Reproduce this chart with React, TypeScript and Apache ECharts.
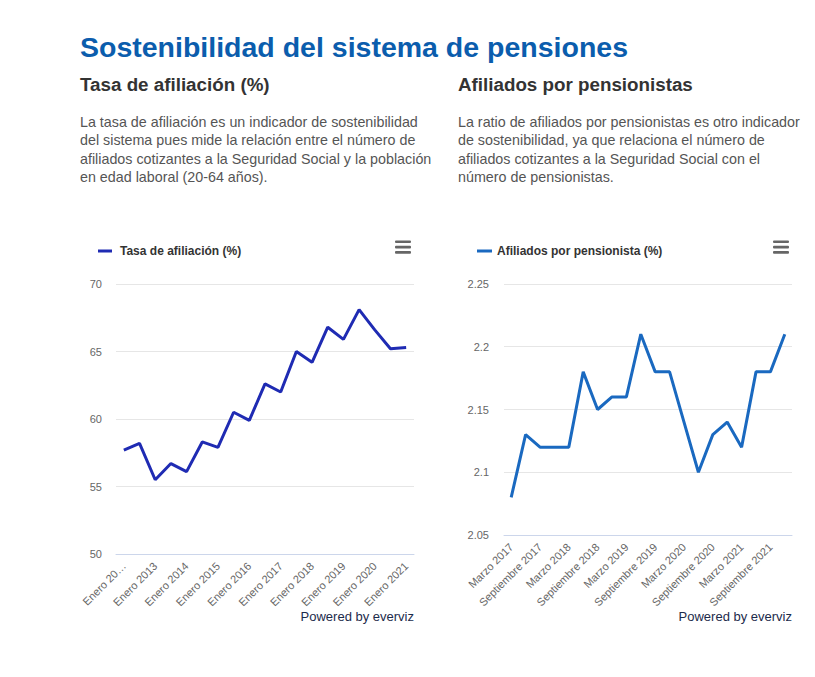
import React, { useEffect, useRef } from "react";
import * as echarts from "echarts";

const mainTitle = "Sostenibilidad del sistema de pensiones";
const leftHeading = "Tasa de afiliación (%)";
const rightHeading = "Afiliados por pensionistas";
const leftParagraph = [
  "La tasa de afiliación es un indicador de sostenibilidad",
  "del sistema pues mide la relación entre el número de",
  "afiliados cotizantes a la Seguridad Social y la población",
  "en edad laboral (20-64 años).",
];
const rightParagraph = [
  "La ratio de afiliados por pensionistas es otro indicador",
  "de sostenibilidad, ya que relaciona el número de",
  "afiliados cotizantes a la Seguridad Social con el",
  "número de pensionistas.",
];

const leftSeriesName = "Tasa de afiliación (%)";
const leftCategories = [
  "Enero 2012", "Julio 2012", "Enero 2013", "Julio 2013", "Enero 2014",
  "Julio 2014", "Enero 2015", "Julio 2015", "Enero 2016", "Julio 2016",
  "Enero 2017", "Julio 2017", "Enero 2018", "Julio 2018", "Enero 2019",
  "Julio 2019", "Enero 2020", "Julio 2020", "Enero 2021",
];
const leftValues = [
  57.7, 58.2, 55.5, 56.7, 56.1, 58.3, 57.9, 60.5, 59.9, 62.6,
  62.0, 65.0, 64.2, 66.8, 65.9, 68.1, 66.6, 65.2, 65.3,
];
const leftYTicks = { min: 50, max: 70, interval: 5 };

const rightSeriesName = "Afiliados por pensionista (%)";
const rightCategories = [
  "Marzo 2017", "Junio 2017", "Septiembre 2017", "Diciembre 2017",
  "Marzo 2018", "Junio 2018", "Septiembre 2018", "Diciembre 2018",
  "Marzo 2019", "Junio 2019", "Septiembre 2019", "Diciembre 2019",
  "Marzo 2020", "Junio 2020", "Septiembre 2020", "Diciembre 2020",
  "Marzo 2021", "Junio 2021", "Septiembre 2021", "Diciembre 2021",
];
const rightValues = [
  2.08, 2.13, 2.12, 2.12, 2.12, 2.18, 2.15, 2.16, 2.16, 2.21,
  2.18, 2.18, 2.14, 2.10, 2.13, 2.14, 2.12, 2.18, 2.18, 2.21,
];
const rightYTicks = { min: 2.05, max: 2.25, interval: 0.05 };

const credit = "Powered by everviz";

const FONT = "'Liberation Sans', Arial, Helvetica, sans-serif";

function menuIcon(x: number, y: number) {
  return [0, 5.3, 10.6].map((dy) => ({
    type: "rect",
    shape: { x, y: y + dy, width: 16, height: 2.6, r: 1 },
    style: { fill: "#666666" },
  }));
}

export default function App() {
  const ref = useRef<HTMLDivElement>(null);

  useEffect(() => {
    if (!ref.current) return;
    const chart = echarts.init(ref.current, undefined, { renderer: "svg" });

    const paragraphLines = (lines: string[], x: number) =>
      lines.map((t, i) => ({
        type: "text",
        x,
        y: 121.5 + i * 18.6,
        style: {
          text: t,
          fontFamily: FONT,
          fontSize: 14.3,
          fill: "#555555",
          textVerticalAlign: "middle",
        },
      }));

    const axisLabelStyle = {
      color: "#666666",
      fontSize: 11,
      fontFamily: FONT,
    };

    const heading = (text: string, x: number) => ({
      type: "text",
      x,
      y: 84,
      style: {
        text,
        fontFamily: FONT,
        fontSize: 18.8,
        fontWeight: "bold",
        fill: "#333333",
        textVerticalAlign: "middle",
      },
    });

    const creditText = (x: number) => ({
      type: "text",
      x,
      y: 616,
      style: {
        text: credit,
        fontFamily: FONT,
        fontSize: 13,
        fill: "#1c2b4b",
        textAlign: "right",
        textVerticalAlign: "middle",
      },
    });

    chart.setOption({
      animation: false,
      backgroundColor: "#ffffff",
      textStyle: { fontFamily: FONT },
      graphic: [
        {
          type: "text",
          x: 80,
          y: 47,
          style: {
            text: mainTitle,
            fontFamily: FONT,
            fontSize: 28.5,
            fontWeight: "bold",
            fill: "#0b5dad",
            textVerticalAlign: "middle",
          },
        },
        heading(leftHeading, 80),
        heading(rightHeading, 458),
        ...paragraphLines(leftParagraph, 80),
        ...paragraphLines(rightParagraph, 458),
        ...menuIcon(395, 240.5),
        ...menuIcon(773, 240.5),
        creditText(414),
        creditText(792),
      ],
      legend: [
        {
          data: [leftSeriesName],
          left: 93,
          top: 240,
          icon: "rect",
          itemWidth: 14,
          itemHeight: 3,
          selectedMode: false,
          textStyle: {
            fontSize: 12,
            fontWeight: "bold",
            color: "#333333",
            fontFamily: FONT,
            padding: [0, 0, 0, 3],
          },
        },
        {
          data: [rightSeriesName],
          left: 472,
          top: 240,
          icon: "rect",
          itemWidth: 15,
          itemHeight: 3,
          selectedMode: false,
          textStyle: {
            fontSize: 12,
            fontWeight: "bold",
            color: "#333333",
            fontFamily: FONT,
          },
        },
      ],
      grid: [
        { left: 116, top: 284, width: 298, height: 270 },
        { left: 504, top: 284, width: 288, height: 251 },
      ],
      xAxis: [
        {
          type: "category",
          gridIndex: 0,
          data: leftCategories,
          boundaryGap: true,
          axisLine: { show: true, lineStyle: { color: "#ccd6eb" } },
          axisTick: { show: false },
          axisLabel: {
            ...axisLabelStyle,
            rotate: 45,
            interval: 1,
            margin: 10,
            formatter: (v: string, i: number) => (i === 0 ? "Enero 20…" : v),
          },
        },
        {
          type: "category",
          gridIndex: 1,
          data: rightCategories,
          boundaryGap: true,
          axisLine: { show: true, lineStyle: { color: "#ccd6eb" } },
          axisTick: { show: false },
          axisLabel: {
            ...axisLabelStyle,
            rotate: 45,
            interval: 1,
            margin: 10,
          },
        },
      ],
      yAxis: [
        {
          type: "value",
          gridIndex: 0,
          min: leftYTicks.min,
          max: leftYTicks.max,
          interval: leftYTicks.interval,
          axisLine: { show: false },
          axisTick: { show: false },
          splitLine: { lineStyle: { color: "#e6e6e6" } },
          axisLabel: { ...axisLabelStyle, margin: 14 },
        },
        {
          type: "value",
          gridIndex: 1,
          min: rightYTicks.min,
          max: rightYTicks.max,
          interval: rightYTicks.interval,
          axisLine: { show: false },
          axisTick: { show: false },
          splitLine: { lineStyle: { color: "#e6e6e6" } },
          axisLabel: { ...axisLabelStyle, margin: 15 },
        },
      ],
      series: [
        {
          name: leftSeriesName,
          type: "line",
          xAxisIndex: 0,
          yAxisIndex: 0,
          data: leftValues,
          showSymbol: false,
          color: "#1f2bb3",
          lineStyle: { width: 3, color: "#1f2bb3" },
        },
        {
          name: rightSeriesName,
          type: "line",
          xAxisIndex: 1,
          yAxisIndex: 1,
          data: rightValues,
          showSymbol: false,
          color: "#1a69c0",
          lineStyle: { width: 3, color: "#1a69c0" },
        },
      ],
    });

    return () => chart.dispose();
  }, []);

  return (
    <div
      ref={ref}
      style={{ position: "absolute", left: 0, top: 0, width: 815, height: 677 }}
    />
  );
}
